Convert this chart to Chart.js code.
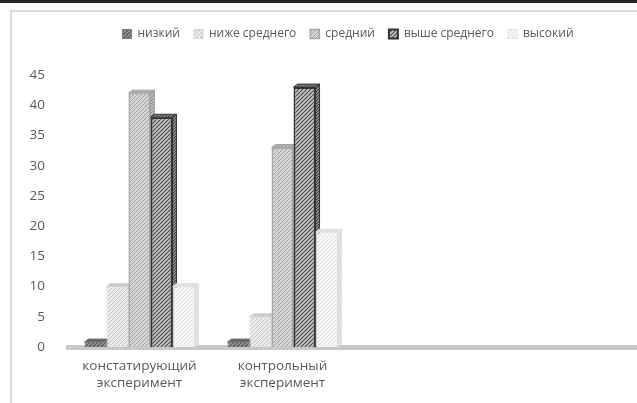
<!DOCTYPE html>
<html>
<head>
<meta charset="utf-8">
<script src="https://cdn.jsdelivr.net/npm/chart.js@4.4.1/dist/chart.umd.min.js"></script>
<style>
  html, body { margin: 0; padding: 0; background: #fff; overflow: hidden; }
  body { width: 637px; height: 403px; position: relative; }
  #topline { position: absolute; left: 0; top: 0; width: 637px; height: 3px; background: #262626; }
  #frame { position: absolute; left: 10px; top: 10px; width: 672px; height: 400px;
           border-left: 2px solid #dcdcdc; border-top: 2px solid #dcdcdc; }
  #frame canvas { display: block; }
</style>
</head>
<body>
<div id="topline"></div>
<div id="frame"><canvas id="oilChart" width="670" height="398"></canvas></div>
<script>
// categories (two empty slots on the right, as in the source sheet)
var categories = [["констатирующий", "эксперимент"], ["контрольный", "эксперимент"], "", ""];
var seriesNames = ["низкий", "ниже среднего", "средний", "выше среднего", "высокий"];

var nizkiy     = [0, 0, null, null];
var nizheSred  = [10, 5, null, null];
var sredniy    = [42, 33, null, null];
var vysheSred  = [38, 43, null, null];
var vysokiy    = [10, 19, null, null];

var yTicks = [0, 5, 10, 15, 20, 25, 30, 35, 40, 45];

function hatch(bg, line, lw, step) {
  var c = document.createElement("canvas");
  c.width = step; c.height = step;
  var g = c.getContext("2d");
  g.fillStyle = bg;
  g.fillRect(0, 0, step, step);
  g.strokeStyle = line;
  g.lineWidth = lw;
  g.beginPath();
  for (var k = -step; k <= step * 2; k += step) {
    g.moveTo(k, step);
    g.lineTo(k + step, 0);
  }
  g.stroke();
  return g.createPattern(c, "repeat");
}

var ctx = document.getElementById("oilChart").getContext("2d");

var fills = [
  hatch("#9a9a9a", "#5a5a5a", 1.5, 4),
  hatch("#ececec", "#c4c4c4", 1, 4),
  hatch("#d6d6d6", "#a2a2a2", 1, 4),
  hatch("#c4c4c4", "#4a4a4a", 1.2, 4),
  hatch("#f6f6f6", "#e0e0e0", 1, 4)
];
var sideFills = [
  hatch("#7a7a7a", "#4a4a4a", 1.2, 3),
  hatch("#d4d4d4", "#b4b4b4", 1, 3),
  hatch("#bcbcbc", "#8e8e8e", 1, 3),
  hatch("#8a8a8a", "#3a3a3a", 1, 3),
  hatch("#e6e6e6", "#d2d2d2", 1, 3)
];
var borders = ["#7a7a7a", "#d2d2d2", "#a6a6a6", "#333333", "#e2e2e2"];
var borderW = [1, 1, 1.5, 2, 1];
var values = [nizkiy, nizheSred, sredniy, vysheSred, vysokiy];

var datasets = seriesNames.map(function (n, i) {
  return {
    label: n,
    data: values[i],
    backgroundColor: fills[i],
    borderColor: borders[i],
    borderWidth: borderW[i],
    minBarLength: i === 0 ? 5 : 0,
    categoryPercentage: 0.77,
    barPercentage: 1.0
  };
});

// extra gap under the legend, and legend centred on the whole chart frame
var legendTweak = {
  id: "legendTweak",
  beforeInit: function (chart) {
    var lg = chart.legend;
    var fit = lg.fit, draw = lg.draw;
    lg.fit = function () {
      fit.call(lg);
      lg.height += 25;
    };
    lg.draw = function () {
      chart.ctx.save();
      chart.ctx.translate(22, 0);
      draw.call(lg);
      chart.ctx.restore();
    };
  }
};

// simple 3d look: top and right faces of every bar, drawn behind the fronts
var depth = {
  id: "depth",
  beforeDatasetsDraw: function (chart) {
    var c = chart.ctx;
    var dx = 4, dy = -3;
    chart.data.datasets.forEach(function (ds, i) {
      var meta = chart.getDatasetMeta(i);
      meta.data.forEach(function (bar, j) {
        if (ds.data[j] == null) return;
        var p = bar.getProps(["x", "y", "base", "width"], true);
        var x0 = p.x - p.width / 2, x1 = p.x + p.width / 2;
        var top = Math.min(p.y, p.base), bot = Math.max(p.y, p.base);
        c.save();
        c.fillStyle = sideFills[i];
        c.strokeStyle = borders[i];
        c.lineWidth = 1;
        c.beginPath();
        c.moveTo(x1, top); c.lineTo(x1 + dx, top + dy); c.lineTo(x1 + dx, bot + dy); c.lineTo(x1, bot);
        c.closePath(); c.fill(); c.stroke();
        c.beginPath();
        c.moveTo(x0, top); c.lineTo(x1, top); c.lineTo(x1 + dx, top + dy); c.lineTo(x0 + dx, top + dy);
        c.closePath(); c.fill(); c.stroke();
        c.restore();
      });
    });
  }
};

Chart.defaults.font.family = "'Open Sans', 'Liberation Sans', sans-serif";
Chart.defaults.font.size = 13;
Chart.defaults.color = "#595959";

new Chart(ctx, {
  type: "bar",
  data: { labels: categories, datasets: datasets },
  plugins: [legendTweak, depth],
  options: {
    responsive: false,
    animation: false,
    layout: { padding: { left: 0, right: 42, top: 2, bottom: 0 } },
    plugins: {
      tooltip: { enabled: false },
      legend: {
        position: "top",
        labels: { boxWidth: 9, boxHeight: 9, padding: 14, color: "#595959", font: { size: 12 } }
      }
    },
    scales: {
      x: {
        grid: { display: false, drawTicks: false },
        border: { display: true, color: "#c8c8c8", width: 5 },
        ticks: { padding: 10, color: "#595959", font: { size: 13.5, lineHeight: 1.3 }, maxRotation: 0, autoSkip: false },
        afterFit: function (s) { s.height = 63; }
      },
      y: {
        min: 0, max: 45,
        grid: { display: false, drawTicks: false },
        border: { display: false },
        afterBuildTicks: function (s) { s.ticks = yTicks.map(function (v) { return { value: v }; }); },
        ticks: { padding: 23, color: "#595959", font: { size: 13.5 } },
        afterFit: function (s) { s.width = 56; }
      }
    }
  }
});
</script>
</body>
</html>
